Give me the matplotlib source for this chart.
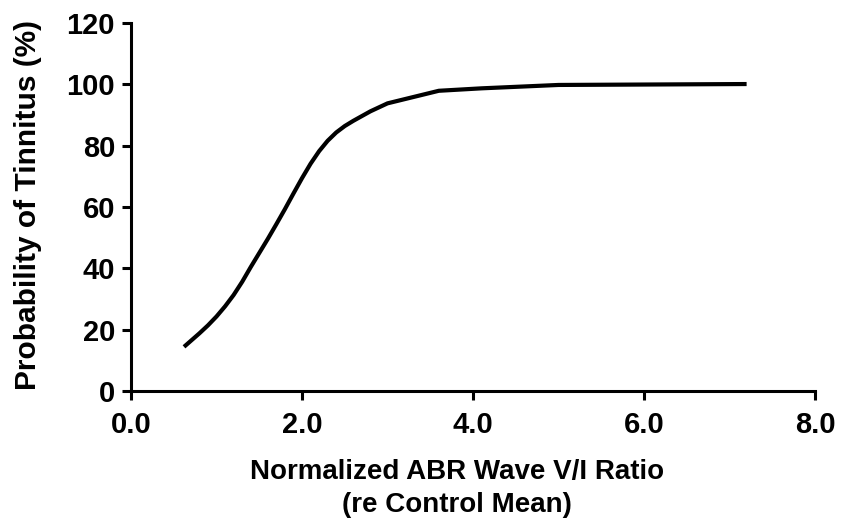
import numpy as np
import matplotlib
matplotlib.use("Agg")
import matplotlib.pyplot as plt

plt.rcParams['font.family'] = ['Liberation Sans', 'DejaVu Sans']
plt.rcParams['font.weight'] = 'bold'

# ratio vs probability
ratio = [0.62, 0.8, 0.9, 1.0, 1.1, 1.2, 1.3, 1.4, 1.5, 1.6, 1.7, 1.8, 1.9, 2.0,
         2.1, 2.2, 2.3, 2.4, 2.5, 2.6, 2.8, 3.0, 3.6, 4.1, 5.0, 7.2]
prob = [14.4, 18.8, 21.4, 24.3, 27.6, 31.3, 35.6, 40.4, 45.0, 49.6, 54.4, 59.3, 64.4, 69.4,
        74.1, 78.2, 81.6, 84.3, 86.4, 88.1, 91.2, 93.8, 97.9, 98.7, 99.8, 100.1]

xticks = [0.0, 2.0, 4.0, 6.0, 8.0]
yticks = [0, 20, 40, 60, 80, 100, 120]

fig = plt.figure(figsize=[8.43, 5.23], dpi=100)
ax = fig.add_axes([0.1554, 0.2524, 0.8114, 0.7036])

ax.plot(ratio, prob, color='black', linewidth=3, solid_capstyle='butt',
        solid_joinstyle='round')

ax.set_xlim(0, 8)
ax.set_ylim(0, 120)
ax.set_xticks(xticks)
ax.set_xticklabels(["%.1f" % t for t in xticks])
ax.set_yticks(yticks)

for s in ['top', 'right']:
    ax.spines[s].set_visible(False)
for s in ['left', 'bottom']:
    ax.spines[s].set_linewidth(2.2)
ax.tick_params(axis='both', width=2.2, length=6.5, labelsize=21)
ax.tick_params(axis='x', pad=8)
ax.tick_params(axis='y', pad=5)
for lab in ax.get_xticklabels() + ax.get_yticklabels():
    lab.set_fontweight('bold')

ax.set_xlabel("Normalized ABR Wave V/I Ratio\n(re Control Mean)", fontsize=20,
              fontweight='bold', linespacing=1.35)
ax.xaxis.set_label_coords(0.476, -0.185)
ax.set_ylabel("Probability of Tinnitus (%)", fontsize=21.5, fontweight='bold')
ax.yaxis.set_label_coords(-0.13, 0.505)

plt.savefig("out.png", dpi=100)
